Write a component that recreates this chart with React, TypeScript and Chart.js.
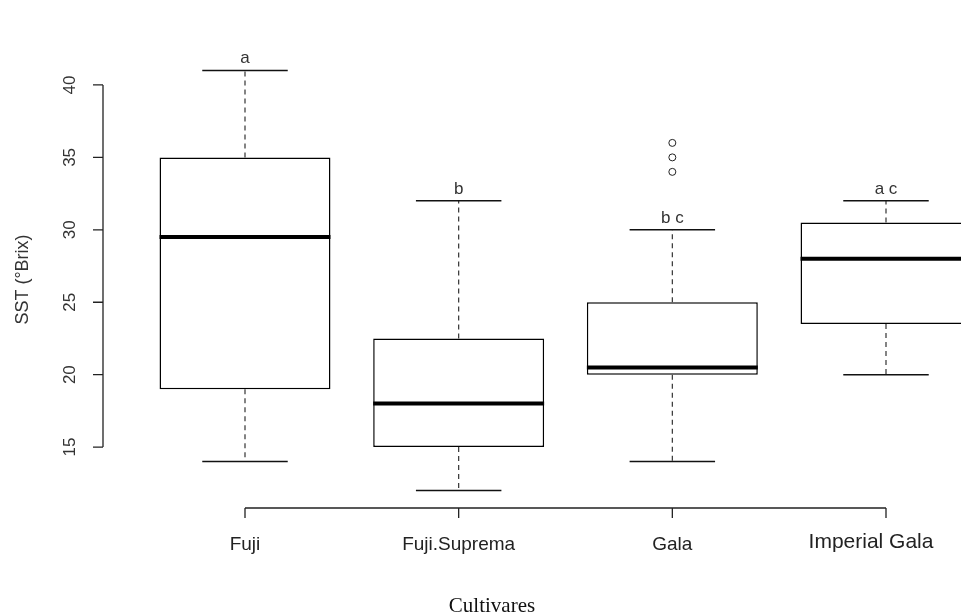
import React, { useEffect, useRef } from "react";
import { Chart, registerables } from "chart.js";

Chart.register(...registerables);

const categories = ["Fuji", "Fuji.Suprema", "Gala", "Imperial Gala"];
const whiskerLow = [14, 12, 14, 20];
const quartile1 = [19, 15, 20, 23.5];
const medians = [29.5, 18, 20.5, 28];
const quartile3 = [35, 22.5, 25, 30.5];
const whiskerHigh = [41, 32, 30, 32];
const outlierCategories = ["Gala", "Gala", "Gala"];
const outlierValues = [36, 35, 34];
const groupLetters = ["a", "b", "b c", "a c"];
const yTicks = [15, 20, 25, 30, 35, 40];
const yTitle = "SST (°Brix)";
const xTitle = "Cultivares";

const boxPlotPlugin = {
  id: "boxPlotExtras",
  afterDatasetsDraw(chart: any) {
    const ctx = chart.ctx as CanvasRenderingContext2D;
    const y = chart.scales.y;
    const bars = chart.getDatasetMeta(0).data;
    ctx.save();
    bars.forEach((bar: any, i: number) => {
      const cx = bar.x;
      const w = bar.width;
      const yHi = y.getPixelForValue(whiskerHigh[i]);
      const yLo = y.getPixelForValue(whiskerLow[i]);
      const yQ3 = y.getPixelForValue(quartile3[i]);
      const yQ1 = y.getPixelForValue(quartile1[i]);
      const yMed = y.getPixelForValue(medians[i]);
      // dashed whiskers
      ctx.strokeStyle = "#333";
      ctx.lineWidth = 1.2;
      ctx.setLineDash([5, 4]);
      ctx.beginPath();
      ctx.moveTo(cx, yQ3);
      ctx.lineTo(cx, yHi);
      ctx.moveTo(cx, yQ1);
      ctx.lineTo(cx, yLo);
      ctx.stroke();
      ctx.setLineDash([]);
      // caps
      ctx.strokeStyle = "#111";
      ctx.lineWidth = 1.5;
      ctx.beginPath();
      ctx.moveTo(cx - w / 4, yHi);
      ctx.lineTo(cx + w / 4, yHi);
      ctx.moveTo(cx - w / 4, yLo);
      ctx.lineTo(cx + w / 4, yLo);
      ctx.stroke();
      // median
      ctx.strokeStyle = "#000";
      ctx.lineWidth = 4;
      ctx.beginPath();
      ctx.moveTo(cx - w / 2, yMed);
      ctx.lineTo(cx + w / 2, yMed);
      ctx.stroke();
      // letters
      ctx.fillStyle = "#333";
      ctx.font = "17px 'Liberation Sans', Arial, sans-serif";
      ctx.textAlign = "center";
      ctx.textBaseline = "alphabetic";
      ctx.fillText(groupLetters[i], cx, yHi - 7);
    });
    ctx.restore();
  },
  afterDraw(chart: any) {
    const ctx = chart.ctx as CanvasRenderingContext2D;
    const x = chart.scales.x;
    const y = chart.scales.y;
    const area = chart.chartArea;
    ctx.save();
    // y axis
    const axisX = 103;
    ctx.strokeStyle = "#222";
    ctx.lineWidth = 1.3;
    ctx.beginPath();
    ctx.moveTo(axisX, y.getPixelForValue(yTicks[0]));
    ctx.lineTo(axisX, y.getPixelForValue(yTicks[yTicks.length - 1]));
    yTicks.forEach((t) => {
      const py = y.getPixelForValue(t);
      ctx.moveTo(axisX, py);
      ctx.lineTo(axisX - 10, py);
    });
    ctx.stroke();
    ctx.fillStyle = "#333";
    ctx.font = "17px 'Liberation Sans', Arial, sans-serif";
    ctx.textAlign = "center";
    ctx.textBaseline = "middle";
    yTicks.forEach((t) => {
      const py = y.getPixelForValue(t);
      ctx.save();
      ctx.translate(70, py);
      ctx.rotate(-Math.PI / 2);
      ctx.fillText(String(t), 0, 0);
      ctx.restore();
    });
    ctx.save();
    ctx.font = "18px 'Liberation Sans', Arial, sans-serif";
    ctx.translate(23, (area.top + area.bottom) / 2 - 1);
    ctx.rotate(-Math.PI / 2);
    ctx.fillText(yTitle, 0, 0);
    ctx.restore();
    // x axis
    const axisY = 508;
    const first = x.getPixelForValue(0);
    const last = x.getPixelForValue(categories.length - 1);
    ctx.beginPath();
    ctx.moveTo(first, axisY);
    ctx.lineTo(last, axisY);
    categories.forEach((_, i) => {
      const px = x.getPixelForValue(i);
      ctx.moveTo(px, axisY);
      ctx.lineTo(px, axisY + 10);
    });
    ctx.stroke();
    ctx.fillStyle = "#222";
    ctx.textBaseline = "alphabetic";
    categories.forEach((c, i) => {
      const px = x.getPixelForValue(i);
      if (i === categories.length - 1) {
        ctx.font = "21px 'Liberation Sans', Arial, sans-serif";
        ctx.fillText(c, px - 15, 548);
      } else {
        ctx.font = "19px 'Liberation Sans', Arial, sans-serif";
        ctx.fillText(c, px, 550);
      }
    });
    ctx.font = "21px 'Liberation Serif', 'Times New Roman', serif";
    ctx.fillStyle = "#111";
    ctx.fillText(xTitle, 492, 612);
    ctx.restore();
  },
};

export default function App() {
  const canvasRef = useRef<HTMLCanvasElement | null>(null);

  useEffect(() => {
    if (!canvasRef.current) return;
    const chart = new Chart(canvasRef.current, {
      type: "bar",
      data: {
        labels: categories,
        datasets: [
          {
            type: "bar",
            data: quartile1.map((v, i) => [v, quartile3[i]]) as any,
            backgroundColor: "#ffffff",
            borderColor: "#000000",
            borderWidth: 1.5,
            borderSkipped: false,
            barPercentage: 1,
            categoryPercentage: 0.8,
            clip: false as any,
          },
          {
            type: "scatter",
            data: outlierValues.map((v, i) => ({ x: outlierCategories[i], y: v })) as any,
            pointRadius: 3.5,
            pointBackgroundColor: "rgba(255,255,255,0)",
            pointBorderColor: "#222",
            pointBorderWidth: 1,
            showLine: false,
            clip: false as any,
          },
        ],
      },
      options: {
        animation: false,
        responsive: false,
        devicePixelRatio: 1,
        layout: { padding: { left: 245, right: 75, top: 56, bottom: 110 } },
        scales: {
          x: { type: "category", offset: false, display: false },
          y: { min: 11, max: 42, display: false },
        },
        plugins: {
          legend: { display: false },
          tooltip: { enabled: false },
        },
      },
      plugins: [boxPlotPlugin],
    });
    return () => chart.destroy();
  }, []);

  return (
    <div style={{ position: "fixed", left: 0, top: 0, width: 961, height: 615, background: "#fff" }}>
      <canvas ref={canvasRef} width={961} height={615} />
    </div>
  );
}
